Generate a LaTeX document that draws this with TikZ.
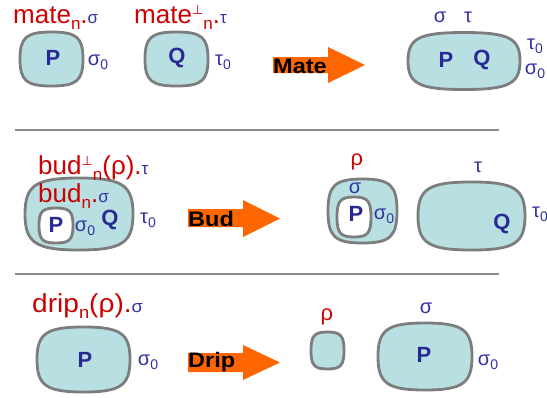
\documentclass[tikz,border=0pt]{standalone}
\usepackage{fontspec}
\setmainfont{Liberation Sans}
\newfontfamily\dejavu{DejaVu Sans}
\definecolor{blobfill}{RGB}{184,223,226}
\definecolor{blobgray}{RGB}{125,125,125}
\definecolor{labred}{RGB}{204,0,0}
\definecolor{gblue}{RGB}{50,50,160}
\definecolor{pblue}{RGB}{40,40,150}
\definecolor{orng}{RGB}{255,102,0}
\definecolor{sepgray}{RGB}{140,140,140}
\newcommand\blob[5][]{%
 \begin{scope}[shift={(#2,#3)},x=#4pt,y=-#5pt]
 \draw[blobstyle,#1] (0,-1) .. controls (0.8,-1) and (1,-0.8) .. (1,0)
   .. controls (1,0.8) and (0.8,1) .. (0,1)
   .. controls (-0.8,1) and (-1,0.8) .. (-1,0)
   .. controls (-1,-0.8) and (-0.8,-1) .. (0,-1) -- cycle;
 \end{scope}}
\newcommand\bigsz{\fontsize{26}{28}\selectfont}
\newcommand\smsz{\fontsize{17}{18}\selectfont}
\newcommand\sub[1]{\raisebox{-6pt}{\smsz #1}}
\newcommand\supperp{\raisebox{9pt}{\dejavu\fontsize{13}{14}\selectfont ⊥}}
\newcommand\gsm[1]{\textcolor{gblue}{\smsz #1}}
\newcommand\gz[1]{#1\raisebox{-4pt}{\fontsize{14}{15}\selectfont 0}}
\begin{document}
\begin{tikzpicture}[x=1pt,y=-1pt,
  blobstyle/.style={draw=blobgray,line width=2.8pt,fill=blobfill},
  redlbl/.style={text=labred,font=\bigsz,anchor=base west,inner sep=0pt},
  ptxt/.style={text=pblue,font=\bfseries\fontsize{22}{24}\selectfont,inner sep=0pt},
  gtxt/.style={text=gblue,font=\fontsize{20}{22}\selectfont,inner sep=0pt},
  rtxt/.style={text=labred,font=\fontsize{22}{24}\selectfont,inner sep=0pt},
  arrtxt/.style={text=black,font=\bfseries\fontsize{21}{22}\selectfont,inner sep=0pt,anchor=west,xscale=1.12},
  arrowshape/.style={fill=orng},
  sep/.style={draw=sepgray,line width=1.3pt}]
\useasboundingbox (0,0) rectangle (547,397);

% separators
\coordinate (s1a) at (15,130); \coordinate (s1b) at (499,130);
\coordinate (s2a) at (15,274); \coordinate (s2b) at (499,274);
\draw[sep] (s1a) -- (s1b);
\draw[sep] (s2a) -- (s2b);

% ---------- Row 1: Mate ----------
\blob{51.5}{59}{31.5}{27}
\blob{176.5}{59}{31.5}{27}
\blob{464}{61}{56}{28.5}
\node[redlbl] (l1) at (13,23) {mate\sub{n}.\gsm{σ}};
\node[redlbl] (l2) at (134,23) {mate\supperp\sub{n}.\gsm{τ}};
\node[ptxt] (p1) at (53,58) {P};
\node[gtxt] (s1) at (98,62) {\gz{σ}};
\node[ptxt] (q1) at (177,58) {Q};
\node[gtxt] (t1) at (223,62) {\gz{τ}};
\fill[arrowshape] (273,57) -- (328,57) -- (328,47) -- (365,65) -- (328,83) -- (328,73) -- (273,73) -- cycle;
\node[arrtxt] (mate) at (273,66) {Mate};
\node[ptxt] (p2) at (446,60) {P};
\node[ptxt] (q2) at (482,60) {Q};
\node[gtxt] (s2) at (440,17) {σ};
\node[gtxt] (t2) at (468,17) {τ};
\node[gtxt] (t2z) at (535,46) {\gz{τ}};
\node[gtxt] (s2z) at (535,71) {\gz{σ}};

% ---------- Row 2: Bud ----------
\blob{79}{214}{54}{36}
\blob[fill=white]{56}{225.5}{17}{17.5}
\node[redlbl] (l3) at (38,174) {bud\supperp\sub{n}(ρ).\gsm{τ}};
\node[redlbl] (l4) at (38,202) {bud\sub{n}.\gsm{σ}};
\node[ptxt] (p3) at (56,225) {P};
\node[gtxt] (s3) at (85,228) {\gz{σ}};
\node[ptxt] (q3) at (110,220) {Q};
\node[gtxt] (t3) at (148,220) {\gz{τ}};
\fill[arrowshape] (188,209) -- (243,209) -- (243,200) -- (280,218.5) -- (243,237) -- (243,227) -- (188,227) -- cycle;
\node[arrtxt] (bud) at (188,218.5) {Bud};
\blob{362.5}{211}{34.5}{32}
\blob[fill=white]{354}{217}{17}{20}
\node[rtxt] (r4) at (357,162) {ρ};
\node[gtxt] (s4) at (355,188) {σ};
\node[ptxt] (p4) at (356,214) {P};
\node[gtxt] (s4z) at (384,216) {\gz{σ}};
\blob{471.5}{216}{53.5}{34}
\node[gtxt] (t4) at (478,167) {τ};
\node[ptxt] (q4) at (502,224) {Q};
\node[gtxt] (t4z) at (540,214) {\gz{τ}};

% ---------- Row 3: Drip ----------
\blob{83.5}{359.5}{46.5}{32.5}
\node[redlbl,xscale=1.08] (l5) at (32,312) {drip\sub{n}(ρ).\gsm{σ}};
\node[ptxt] (p5) at (85,360) {P};
\node[gtxt] (s5) at (148,362) {\gz{σ}};
\fill[arrowshape] (188,353) -- (243,353) -- (243,345) -- (280,362.5) -- (243,380) -- (243,372) -- (188,372) -- cycle;
\node[arrtxt] (drip) at (188,362.5) {Drip};
\blob{327.5}{350.5}{16.5}{18.5}
\node[rtxt] (r6) at (327,317) {ρ};
\blob{425}{356.5}{47}{33.5}
\node[gtxt] (s6) at (426,308) {σ};
\node[ptxt] (p6) at (424,355) {P};
\node[gtxt] (s6z) at (488,362) {\gz{σ}};
\end{tikzpicture}
\end{document}
